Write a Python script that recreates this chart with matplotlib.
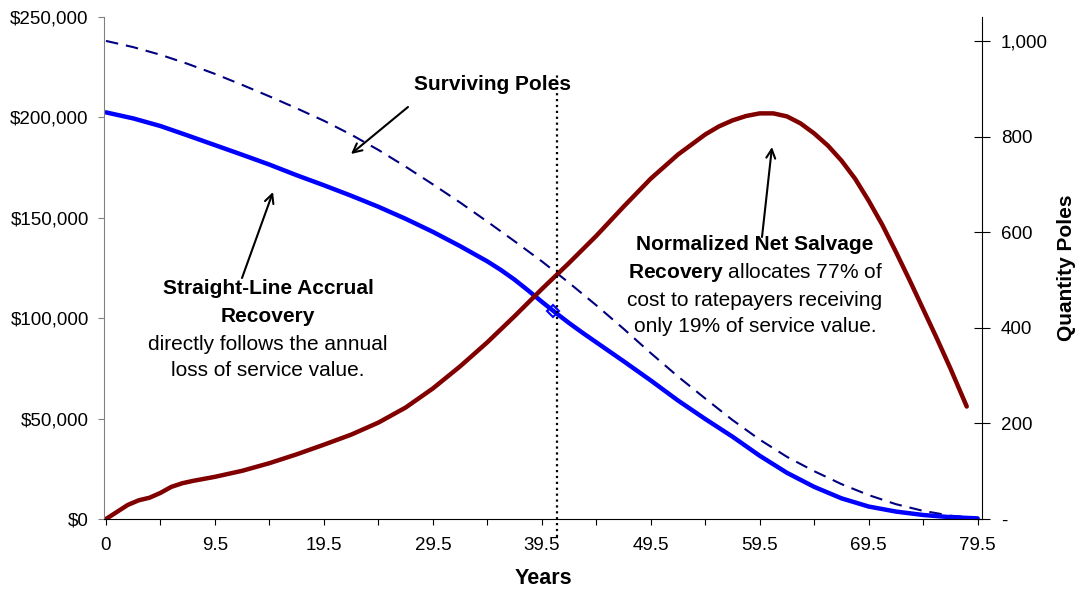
import matplotlib
matplotlib.use("Agg")
import matplotlib.pyplot as plt
from matplotlib.ticker import FuncFormatter

plt.rcParams['font.family'] = ['Liberation Sans', 'DejaVu Sans']
plt.rcParams['mathtext.fontset'] = 'custom'
plt.rcParams['mathtext.rm'] = 'Liberation Sans'
plt.rcParams['mathtext.bf'] = 'Liberation Sans:bold'

# category positions (0 = year 0, n = year n-0.5)
pos_sp = [0, 2.5, 5, 7.5, 10, 12.5, 15, 17.5, 20, 22.5, 25, 27.5, 30, 32.5, 35, 37.5,
          40, 42.5, 45, 47.5, 50, 52.5, 55, 57.5, 60, 62.5, 65, 67.5, 70, 72.5, 75, 77.5, 80]
surviving = [1000, 987, 971, 952, 931, 908, 884, 859, 833, 804, 772, 737, 700, 662, 622, 581,
             539, 494, 447, 398, 347, 298, 252, 207, 166, 130, 100, 73, 50, 31, 17, 7, 2]

pos_sl = [0, 2.5, 5, 7.5, 10, 12.5, 15, 17.5, 20, 22.5, 25, 27.5, 30, 32.5, 35, 36.25, 37.5,
          38.75, 40, 41.25, 42.5, 43.75, 45, 47.5, 50, 52.5, 55, 57.5, 60, 62.5, 65, 67.5, 70,
          72.5, 75, 77.5, 80]
straight_line = [202500, 199500, 195700, 191000, 186200, 181400, 176500, 171200, 166200, 161000,
                 155500, 149500, 143000, 135900, 128300, 124000, 119200, 113800, 108200, 102800,
                 97600, 92700, 88000, 78600, 69000, 59000, 49800, 41000, 31500, 23000, 16000,
                 10300, 6200, 3700, 2000, 900, 300]

pos_ns = [0, 1, 2, 3, 4, 5, 6, 7, 8, 10, 12.5, 15, 17.5, 20, 22.5, 25, 27.5, 30, 32.5, 35,
          37.5, 40, 42.5, 45, 47.5, 50, 52.5, 53.75, 55, 56.25, 57.5, 58.75, 60, 61.25, 62.5,
          63.75, 65, 66.25, 67.5, 68.75, 70, 71.25, 72.5, 73.75, 75, 76.25, 77.5, 79]
net_salvage = [0, 3500, 7000, 9300, 10600, 13000, 16000, 17800, 19000, 21000, 24000, 27800,
               32200, 37000, 42000, 48000, 55500, 65000, 76000, 88000, 101000, 114500, 127500,
               141000, 155500, 169500, 181500, 186500, 191500, 195500, 198500, 200700, 202000,
               202000, 200500, 197000, 192000, 186000, 178500, 169500, 158500, 146500, 133000,
               119000, 104500, 90000, 75000, 56000]

marker_pos, marker_val = 41.0, 103500
vline_pos = 41.4
vline_range = [-9000, 222000]

tick_pos = [0, 5, 10, 15, 20, 25, 30, 35, 40, 45, 50, 55, 60, 65, 70, 75, 80]
tick_labels = ["0", "", "9.5", "", "19.5", "", "29.5", "", "39.5", "", "49.5", "",
               "59.5", "", "69.5", "", "79.5"]

fig = plt.figure(figsize=(10.83, 5.94), dpi=100)
ax = fig.add_axes([104 / 1083, 75 / 594, 878 / 1083, 502 / 594])
ax2 = ax.twinx()

ax2.plot(pos_sp, surviving, color='#000080', lw=1.5, dashes=(6, 3.8))
ax.plot(pos_sl, straight_line, color='#0000FF', lw=3.2, solid_capstyle='round',
        solid_joinstyle='round')
ax.plot(pos_ns, net_salvage, color='#800000', lw=3.2, solid_capstyle='round',
        solid_joinstyle='round')
ax.plot([marker_pos], [marker_val], marker='D', ms=6, mfc='none', mec='#0000FF', mew=1.5)
ax.plot([vline_pos, vline_pos], vline_range, color='black', lw=1.6, ls=':', clip_on=False)

ax.set_zorder(ax2.get_zorder() + 1)
ax.patch.set_visible(False)

ax.set_xlim(-0.18, 80.4)
ax.set_ylim(0, 250000)
ax2.set_ylim(0, 1050)

ax.set_yticks([0, 50000, 100000, 150000, 200000, 250000])
ax.yaxis.set_major_formatter(FuncFormatter(lambda v, p: "${:,.0f}".format(v)))
ax2.set_yticks([0, 200, 400, 600, 800, 1000])
ax2.yaxis.set_major_formatter(FuncFormatter(lambda v, p: "-" if v == 0 else "{:,.0f}".format(v)))
ax.set_xticks(tick_pos)
ax.set_xticklabels(tick_labels)

for a in (ax, ax2):
    a.spines['top'].set_visible(False)
ax.spines['left'].set_color('#808080')
ax.spines['right'].set_visible(False)
ax2.spines['left'].set_visible(False)
ax2.spines['bottom'].set_visible(False)
ax.tick_params(axis='y', colors='#808080', labelcolor='black', labelsize=13.5, length=4.5, pad=6.5)
ax.tick_params(axis='x', labelsize=13.5, length=4, pad=9)
ax2.tick_params(axis='y', direction='inout', length=11, labelsize=13.5, pad=8)

ax.set_xlabel("Years", fontsize=15.5, fontweight='bold', labelpad=10)
ax2.set_ylabel("Quantity Poles", fontsize=15, fontweight='bold', labelpad=7)


def note(s, x, y, weight='normal'):
    ax.annotate(s, xy=(x, 594 - y), xycoords='figure pixels', ha='center', va='center',
                fontsize=15, fontweight=weight)


def arrow(x0, y0, x1, y1):
    ax.annotate("", xy=(x1, 594 - y1), xytext=(x0, 594 - y0), xycoords='figure pixels',
                textcoords='figure pixels',
                arrowprops=dict(arrowstyle='->', color='black', lw=1.5, shrinkA=0, shrinkB=0,
                                mutation_scale=16))


note("Surviving Poles", 492, 84, 'bold')
arrow(408, 107, 351, 154)

note("Straight-Line Accrual", 268, 289, 'bold')
note("Recovery", 268, 317, 'bold')
note("directly follows the annual", 268, 344)
note("loss of service value.", 268, 371)
arrow(242, 278, 273, 192)

note("Normalized Net Salvage", 755, 245, 'bold')
note(r"$\bf{Recovery}$ allocates 77% of", 755, 272)
note("cost to ratepayers receiving", 755, 300)
note("only 19% of service value.", 755, 327)
arrow(762, 237, 772, 147)

fig.savefig("out.png", dpi=100)
